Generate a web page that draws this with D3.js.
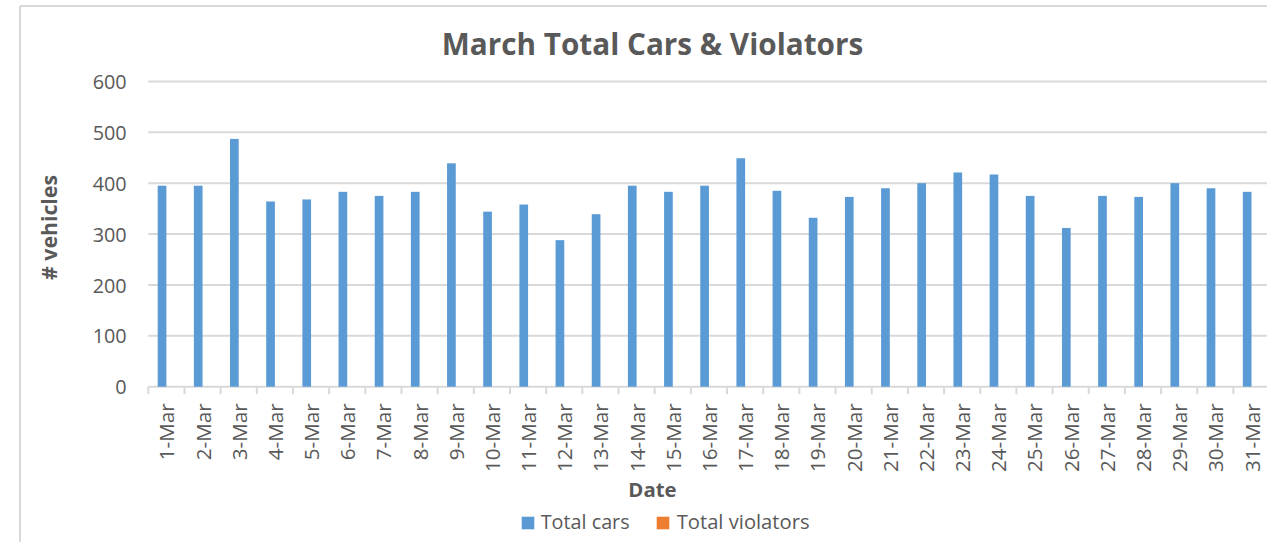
<!DOCTYPE html>
<html>
<head>
<meta charset="utf-8">
<script src="https://cdn.jsdelivr.net/npm/d3@7"></script>
<style>
  html, body { margin: 0; padding: 0; background: #ffffff; }
  svg { display: block; }
  text { font-family: "Open Sans", "Noto Sans", sans-serif; fill: #595959; }
</style>
</head>
<body>
<svg id="chart" width="1267" height="542"></svg>
<script>
// ---- Data ----
const categories = ["1-Mar","2-Mar","3-Mar","4-Mar","5-Mar","6-Mar","7-Mar","8-Mar","9-Mar","10-Mar",
  "11-Mar","12-Mar","13-Mar","14-Mar","15-Mar","16-Mar","17-Mar","18-Mar","19-Mar","20-Mar",
  "21-Mar","22-Mar","23-Mar","24-Mar","25-Mar","26-Mar","27-Mar","28-Mar","29-Mar","30-Mar","31-Mar"];
const totalCars = [395,395,487,364,368,383,375,383,439,344,
  358,288,339,395,383,395,449,385,332,373,
  390,400,421,417,375,312,375,373,400,390,383];
const totalViolators = [0,0,0,0,0,0,0,0,0,0,
  0,0,0,0,0,0,0,0,0,0,
  0,0,0,0,0,0,0,0,0,0,0];
const seriesNames = ["Total cars", "Total violators"];
const seriesColors = ["#5b9bd5", "#ed7d31"];
const yTicks = [0,100,200,300,400,500,600];
const titleText = "March Total Cars & Violators";
const yTitle = "# vehicles";
const xTitle = "Date";

// ---- Layout ----
const svg = d3.select("#chart");
const W = 1267, H = 542;
const plot = { left: 148.3, right: 1269.6, top: 81.4, bottom: 386.7 };
const gridColor = "#d9d9d9";

// fit a text element's font-size so its width matches a target
function fitWidth(sel, target) {
  const node = sel.node();
  const fs = parseFloat(sel.style("font-size"));
  const w = node.getComputedTextLength();
  if (w > 0) sel.style("font-size", (fs * target / w) + "px");
  return parseFloat(sel.style("font-size"));
}

// chart border (top & left visible)
svg.append("line").attr("x1", 20).attr("x2", W).attr("y1", 6).attr("y2", 6)
  .attr("stroke", gridColor).attr("stroke-width", 2);
svg.append("line").attr("x1", 20).attr("x2", 20).attr("y1", 6).attr("y2", H)
  .attr("stroke", gridColor).attr("stroke-width", 2);

// scales
const x = d3.scaleBand().domain(categories).range([plot.left, plot.right]).paddingInner(0).paddingOuter(0);
const bw = x.bandwidth();
const barW = bw / (2 + 2.16);
const gap = bw - 2 * barW;
const xs = d3.scaleBand().domain(seriesNames).range([gap / 2, bw - gap / 2]).padding(0);
const y = d3.scaleLinear().domain([0, 600]).range([plot.bottom, plot.top]);

// gridlines
svg.append("g").selectAll("line").data(yTicks).join("line")
  .attr("x1", plot.left).attr("x2", W + 5)
  .attr("y1", d => y(d)).attr("y2", d => y(d))
  .attr("stroke", gridColor).attr("stroke-width", 2);

// x tick marks at band boundaries
const bounds = categories.map(c => x(c)).concat([x(categories[categories.length - 1]) + bw]);
svg.append("g").selectAll("line").data(bounds).join("line")
  .attr("x1", d => d).attr("x2", d => d)
  .attr("y1", plot.bottom).attr("y2", plot.bottom + 7.5)
  .attr("stroke", gridColor).attr("stroke-width", 2);

// bars
const series = [totalCars, totalViolators];
series.forEach((vals, si) => {
  svg.append("g").selectAll("rect").data(vals).join("rect")
    .attr("x", (d, i) => x(categories[i]) + xs(seriesNames[si]))
    .attr("width", xs.bandwidth())
    .attr("y", d => y(d))
    .attr("height", d => y(0) - y(d))
    .attr("fill", seriesColors[si]);
});

// y axis labels
const yAxis = d3.axisLeft(y).tickValues(yTicks).tickSize(0).tickPadding(0);
const yg = svg.append("g").attr("transform", `translate(126.7,0)`).call(yAxis);
yg.select(".domain").remove();
yg.selectAll("text").attr("fill", "#595959").attr("dy", "0.36em")
  .style("font-family", '"Open Sans", sans-serif').style("font-size", "19px");
const yfs = fitWidth(yg.selectAll("text").filter(d => d === 600), 34);
yg.selectAll("text").style("font-size", yfs + "px");

// x axis labels (rotated)
const xAxis = d3.axisBottom(x).tickSize(0).tickPadding(0);
const xg = svg.append("g").attr("transform", `translate(0,${plot.bottom})`).call(xAxis);
xg.select(".domain").remove();
xg.selectAll("text")
  .attr("fill", "#595959")
  .style("font-family", '"Open Sans", sans-serif').style("font-size", "19px")
  .attr("text-anchor", "end")
  .attr("dy", null).attr("y", 0)
  .attr("transform", "translate(0,16.6) rotate(-90)")
  .attr("dominant-baseline", "central");
const xfs = fitWidth(xg.selectAll("text").filter(d => d === "1-Mar"), 57);
xg.selectAll("text").style("font-size", xfs + "px");

// title
const t = svg.append("text").attr("x", 652.5).attr("y", 55).attr("text-anchor", "middle")
  .style("font-size", "26px").style("font-weight", "bold").text(titleText);
fitWidth(t, 421.6);

// y axis title
const yt = svg.append("text").attr("transform", "translate(56.5,227.5) rotate(-90)")
  .attr("text-anchor", "middle").style("font-size", "19px").style("font-weight", "bold").text(yTitle);
fitWidth(yt, 105);

// x axis title
const xt = svg.append("text").attr("x", 652.5).attr("y", 496.5).attr("text-anchor", "middle")
  .style("font-size", "19px").style("font-weight", "bold").text(xTitle);
fitWidth(xt, 48.3);

// legend
const legendItems = [
  { name: seriesNames[0], color: seriesColors[0], sx: 521.7, tx: 540.7, tw: 89 },
  { name: seriesNames[1], color: seriesColors[1], sx: 656.7, tx: 676.7, tw: 133 }
];
const lg = svg.append("g");
legendItems.forEach(it => {
  lg.append("rect").attr("x", it.sx).attr("y", 516.7).attr("width", 12.6).attr("height", 12.6).attr("fill", it.color);
  const tt = lg.append("text").attr("x", it.tx).attr("y", 529).style("font-size", "19px").text(it.name);
  fitWidth(tt, it.tw);
});
</script>
</body>
</html>
